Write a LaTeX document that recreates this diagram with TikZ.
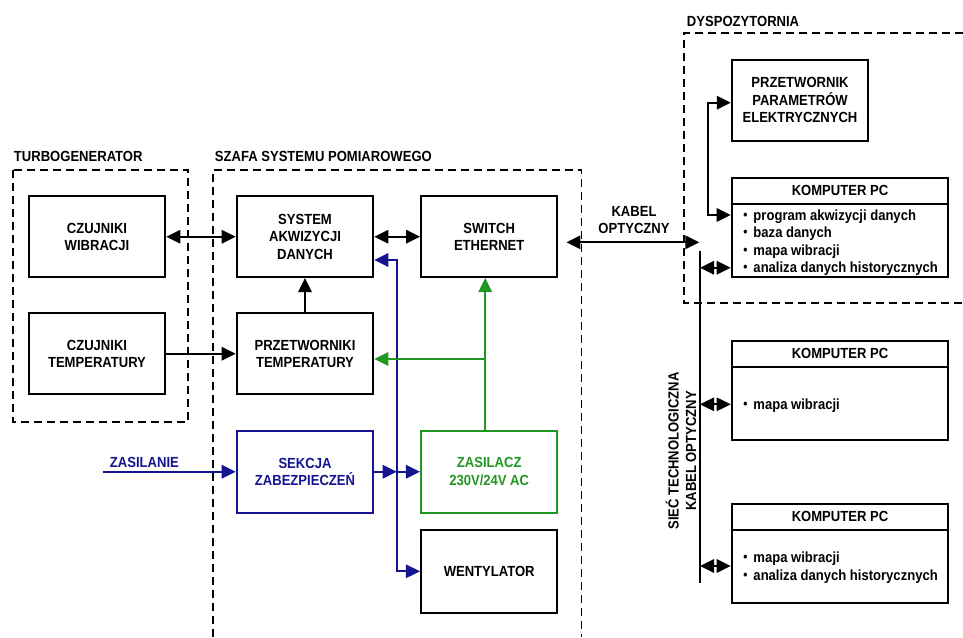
\documentclass[tikz,border=0pt]{standalone}
\usepackage{fontspec}
\setmainfont{Liberation Sans}[FakeStretch=0.89]
\usetikzlibrary{arrows.meta,calc}
\definecolor{pblue}{RGB}{20,20,145}
\definecolor{pgreen}{RGB}{34,150,34}
\newcommand\itm{\raisebox{0.1ex}{\fontsize{10}{10}\selectfont•}\hspace{0.4em}}
\begin{document}
\begin{tikzpicture}[x=0.75pt,y=-0.75pt,line width=1.45pt,
  every node/.style={font=\fontsize{11}{13.1}\selectfont\bfseries, inner sep=0pt},
  sz/.style 2 args={minimum width=#1*0.75pt, minimum height=#2*0.75pt},
  box/.style={draw, line width=1.45pt, align=center},
  dbox/.style={line width=1.45pt, dash pattern=on 6pt off 3.75pt},
  >={Triangle[length=10.5pt,width=10pt]}]
\useasboundingbox (0,0) rectangle (963,637);

% region frames
\draw[dbox] (12.6,170) rectangle (188.3,421.7);
\draw[dbox] (212.7,637) -- (212.7,170) -- (581.5,170) -- (581.5,637);
\draw[dbox] (963,33.3) -- (684,33.3) -- (684,303.3) -- (963,303.3);

% region labels
\node[anchor=base west] (lturbo) at (13,161) {TURBOGENERATOR};
\node[anchor=base west] (lszafa) at (214,161) {SZAFA SYSTEMU POMIAROWEGO};
\node[anchor=base west] (ldysp) at (686,26) {DYSPOZYTORNIA};

% blocks
\node[box, sz={136.6}{80.7}] (czw) at (97,236.7) {CZUJNIKI\\WIBRACJI};
\node[box, sz={136.6}{80.7}] (czt) at (97,353.7) {CZUJNIKI\\TEMPERATURY};
\node[box, sz={136.6}{80.7}] (sad) at (305,236.7) {SYSTEM\\AKWIZYCJI\\DANYCH};
\node[box, sz={136.3}{80.7}] (sw) at (489.2,236.7) {SWITCH\\ETHERNET};
\node[box, sz={136.6}{80.7}] (prt) at (305,353.7) {PRZETWORNIKI\\TEMPERATURY};
\node[box, draw=pblue, text=pblue, sz={136.6}{82}] (sek) at (305,471.7) {SEKCJA\\ZABEZPIECZEŃ};
\node[box, draw=pgreen, text=pgreen, sz={136.5}{82}] (zas) at (489.2,471.7) {ZASILACZ\\230V/24V AC};
\node[box, sz={136.5}{82.7}] (wen) at (489.2,571.3) {WENTYLATOR};
\node[box, sz={136.3}{80.7}] (ppe) at (800,100.3) {PRZETWORNIK\\PARAMETRÓW\\ELEKTRYCZNYCH};

% computers: frame, title bar, bullet list
\node[box, sz={216.6}{98.4}] (pc1) at (840,227.5) {};
\node[box, sz={216.6}{99.3}] (pc2) at (840,390.3) {};
\node[box, sz={216.6}{99.3}] (pc3) at (840,553.7) {};
\foreach \p in {pc1,pc2,pc3}{
  \draw ($(\p.north west)+(0,27)$) -- ($(\p.north east)+(0,27)$);
  \node (\p h) at ($(\p.north)+(0,13.5)$) {KOMPUTER PC};
}
\node[anchor=base west] (pc1a) at (742.5,220) {\itm program akwizycji danych};
\node[anchor=base west] (pc1b) at (742.5,237.5) {\itm baza danych};
\node[anchor=base west] (pc1c) at (742.5,255) {\itm mapa wibracji};
\node[anchor=base west] (pc1d) at (742.5,272.5) {\itm analiza danych historycznych};
\node[anchor=base west] (pc2a) at (742.5,409) {\itm mapa wibracji};
\node[anchor=base west] (pc3a) at (742.5,562.5) {\itm mapa wibracji};
\node[anchor=base west] (pc3b) at (742.5,580) {\itm analiza danych historycznych};

% signal connections
\draw[<->] (czw) -- (sad);
\draw[->] (czt) -- (prt);
\draw[->] (prt) -- (sad);
\draw[<->] (sad) -- (sw);

% optical cable and plant network
\node[align=center] (lkabel) at (634,220) {KABEL\\OPTYCZNY};
\coordinate (kr) at (699.3,242.3);
\draw[<->, shorten <=6pt] (kr -| sw.east) -- (kr);
\coordinate (nt) at (700,250.7);
\coordinate (nb) at (700,583.3);
\draw (nt) -- (nb);
\foreach \p/\yy in {pc1/267.7, pc2/404.3, pc3/566}
  \draw[<->] (nt |- 0,\yy) -- (\p.west |- 0,\yy);
\node[rotate=90, align=center] (lsiec) at (681,451) {SIEĆ TECHNOLOGICZNA\\KABEL OPTYCZNY};

% electrical parameters transducer link
\coordinate (pv) at (707.7,102.7);
\coordinate (pl) at (707.7,215);
\draw[<->] (ppe.west |- pv) -- (pv) -- (pl) -- (pc1.west |- pl);

% power distribution
\coordinate (zl) at (103.3,471.7);
\node[anchor=base west, text=pblue] (lzas) at (109,467.7) {ZASILANIE};
\draw[pblue, ->] (zl) -- (sek);
\coordinate (bj) at (396.7,471.7);
\coordinate (bt) at (396.7,260);
\coordinate (bb) at (396.7,571.3);
\draw[pblue, ->] (sek) -- (bj);
\draw[pblue, ->] (bj) -- (zas);
\draw[pblue, <->] (sad.east |- bt) -- (bt) -- (bb) -- (wen);

% 24 V supply
\coordinate (gj) at (485,359);
\draw[pgreen, ->] ([xshift=-3pt]zas.north) -- ([xshift=-3pt]sw.south);
\draw[pgreen, ->] (gj) -- (prt.east |- gj);
\end{tikzpicture}
\end{document}
